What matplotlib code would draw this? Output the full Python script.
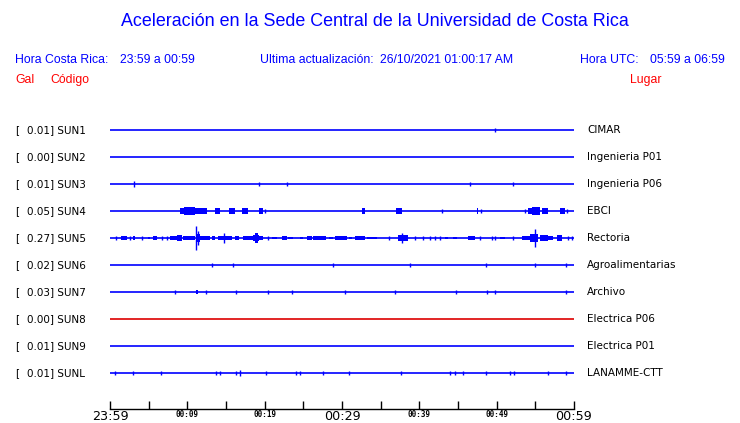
import matplotlib
matplotlib.use("Agg")
import matplotlib.pyplot as plt

W, H = 740, 423

# stations, from top to bottom
codes = ["SUN1", "SUN2", "SUN3", "SUN4", "SUN5", "SUN6", "SUN7", "SUN8", "SUN9", "SUNL"]
peaks = ["0.01", "0.00", "0.01", "0.05", "0.27", "0.02", "0.03", "0.00", "0.01", "0.01"]
places = ["CIMAR", "Ingenieria P01", "Ingenieria P06", "EBCI", "Rectoria",
          "Agroalimentarias", "Archivo", "Electrica P06", "Electrica P01", "LANAMME-CTT"]

# bursts: (start minute, end minute, half amplitude in half-row units)
# minutes counted from 23:59
sun1 = [(49.8, 49.8, 0.16)]
sun2 = []
sun3 = [(3.1, 3.1, 0.2), (19.3, 19.3, 0.16), (22.9, 22.9, 0.16), (46.6, 46.6, 0.16),
        (52.1, 52.1, 0.14)]
sun4 = [(9.05, 9.57, 0.22), (9.57, 10.35, 0.3), (10.35, 11.0, 0.33), (11.0, 11.64, 0.22),
        (11.64, 12.54, 0.2), (13.58, 14.22, 0.22), (15.4, 16.16, 0.25), (17.07, 17.85, 0.22),
        (19.27, 19.78, 0.2), (20.04, 20.04, 0.14), (32.6, 33.0, 0.22), (37.0, 37.76, 0.22),
        (42.9, 42.9, 0.14), (47.5, 47.6, 0.2), (47.98, 47.98, 0.14), (53.7, 53.7, 0.16),
        (54.05, 54.6, 0.25), (54.6, 55.6, 0.3), (55.9, 56.6, 0.25), (58.2, 58.8, 0.25),
        (59.1, 59.1, 0.16)]
sun5 = [(0.8, 0.8, 0.14), (1.4, 2.2, 0.13), (2.6, 2.6, 0.16), (3.0, 3.2, 0.12), (4.1, 4.1, 0.14),
        (4.9, 5.2, 0.1), (5.6, 6.1, 0.14), (6.7, 6.7, 0.12), (7.4, 7.4, 0.14), (7.8, 8.7, 0.12),
        (8.7, 9.3, 0.25), (9.4, 11.0, 0.15), (11.1, 11.1, 0.9), (11.4, 11.4, 0.5),
        (11.2, 11.6, 0.3), (11.6, 12.9, 0.14), (13.2, 13.6, 0.12), (14.0, 15.8, 0.18),
        (14.7, 14.7, 0.35), (16.2, 16.7, 0.14), (17.2, 18.5, 0.14), (18.8, 19.1, 0.4),
        (18.5, 19.3, 0.25), (19.3, 19.8, 0.15), (20.4, 20.4, 0.12), (21.0, 21.6, 0.1),
        (22.2, 22.9, 0.12), (23.0, 23.7, 0.1), (24.6, 25.0, 0.1), (25.5, 26.1, 0.12),
        (26.3, 27.9, 0.12), (28.3, 28.8, 0.1), (29.1, 30.6, 0.12), (30.9, 31.3, 0.1),
        (31.7, 33.0, 0.14), (33.2, 34.5, 0.1), (36.1, 36.1, 0.14), (37.2, 38.5, 0.2),
        (37.8, 37.8, 0.35), (39.4, 39.4, 0.12), (40.5, 40.5, 0.12), (41.4, 41.4, 0.12),
        (42.0, 42.0, 0.14), (42.7, 42.7, 0.12), (43.3, 43.7, 0.1), (44.4, 44.9, 0.1),
        (46.3, 47.2, 0.15), (47.8, 47.8, 0.12), (49.4, 49.4, 0.12), (49.8, 49.8, 0.12),
        (50.4, 51.1, 0.1), (52.1, 52.1, 0.14), (53.3, 54.3, 0.14), (54.3, 55.4, 0.3),
        (55.0, 55.0, 0.67), (55.6, 56.6, 0.2), (56.6, 57.3, 0.14), (57.8, 58.5, 0.2),
        (59.2, 59.2, 0.12), (59.7, 59.7, 0.12)]
sun6 = [(13.2, 13.2, 0.18), (15.9, 15.9, 0.14), (28.8, 28.8, 0.14), (38.8, 38.8, 0.18),
        (48.6, 48.6, 0.18), (55.0, 55.0, 0.14), (59.0, 59.0, 0.18)]
sun7 = [(8.4, 8.4, 0.14), (11.1, 11.4, 0.15), (12.4, 12.4, 0.16), (16.3, 16.3, 0.14),
        (20.4, 20.4, 0.14), (23.5, 23.5, 0.12), (30.4, 30.4, 0.14), (36.9, 36.9, 0.12),
        (44.7, 44.7, 0.12), (48.75, 48.75, 0.14), (49.8, 49.8, 0.12), (59.0, 59.0, 0.16)]
sun8 = []
sun9 = []
sunl = [(0.65, 0.65, 0.14), (3.0, 3.0, 0.14), (6.6, 6.6, 0.14), (13.7, 13.7, 0.14),
        (14.2, 14.2, 0.12), (16.3, 16.3, 0.14), (16.8, 16.8, 0.2), (20.2, 20.2, 0.12),
        (24.1, 24.1, 0.12), (24.6, 24.6, 0.12), (27.5, 27.5, 0.12), (30.9, 30.9, 0.12),
        (37.6, 37.6, 0.12), (44.0, 44.0, 0.14), (44.6, 44.6, 0.12), (45.6, 45.6, 0.12),
        (48.6, 48.6, 0.14), (51.7, 51.7, 0.12), (52.2, 52.2, 0.12), (56.6, 56.6, 0.14),
        (59.0, 59.0, 0.14)]
traces = [sun1, sun2, sun3, sun4, sun5, sun6, sun7, sun8, sun9, sunl]
trace_colors = ["#0000ff"] * 7 + ["#dd0000"] + ["#0000ff"] * 2

tick_minutes = list(range(0, 61, 5))
tick_text = {0: "23:59", 10: "00:09", 20: "00:19", 30: "00:29", 40: "00:39", 50: "00:49", 60: "00:59"}
big_ticks = [0, 30, 60]

BLUE = "#0000ff"
RED = "#ff0000"
SANS = "Liberation Sans"
HALF_ROW = 0.5


def fx(px):
    return px / W


def fy(py):
    return 1 - py / H


fig = plt.figure(figsize=(W / 100, H / 100), dpi=100)

# trace area: x 110..574 px, rows at 130 + 27*i, axis line at 409 px
ax = fig.add_axes([fx(110), fy(409), (574 - 110) / W, (409 - 115) / H])
ax.set_xlim(0, 60)
ax.set_ylim((409 - 130) / 27, (115 - 130) / 27)

for i, (tr, col) in enumerate(zip(traces, trace_colors)):
    ax.plot([0, 60], [i, i], color=col, lw=1.2, solid_capstyle="butt")
    for t0, t1, a in tr:
        a = a * HALF_ROW
        if t1 > t0:
            ax.fill_between([t0, t1], [i - a, i - a], [i + a, i + a], color=col, lw=0)
        else:
            ax.vlines(t0, i - a, i + a, color=col, lw=1.0)

for s in ["top", "right", "left"]:
    ax.spines[s].set_visible(False)
ax.spines["bottom"].set_linewidth(1.0)
ax.set_yticks([])
ax.set_xticks(tick_minutes)
ax.set_xticklabels([tick_text.get(m, "") for m in tick_minutes])
ax.tick_params(axis="x", direction="in", length=5.5, width=1.0, pad=1.0)
for m, lab in zip(tick_minutes, ax.get_xticklabels()):
    if m in big_ticks:
        lab.set_fontfamily("DejaVu Sans")
        lab.set_fontsize(9.2)
    else:
        lab.set_fontfamily("DejaVu Sans Mono")
        lab.set_fontsize(5.5)
        lab.set_fontweight("bold")
ax.patch.set_alpha(0)

# title and header lines
fig.text(fx(375), fy(22), "Aceleración en la Sede Central de la Universidad de Costa Rica",
         color=BLUE, fontsize=12.9, family=SANS, ha="center", va="center")
hdr = dict(color=BLUE, fontsize=8.8, family=SANS, va="center")
fig.text(fx(15), fy(60), "Hora Costa Rica:", **hdr)
fig.text(fx(120), fy(60), "23:59 a 00:59", **hdr)
fig.text(fx(260), fy(60), "Ultima actualización:", **hdr)
fig.text(fx(380), fy(60), "26/10/2021 01:00:17 AM", **hdr)
fig.text(fx(580), fy(60), "Hora UTC:", **hdr)
fig.text(fx(650), fy(60), "05:59 a 06:59", **hdr)
red = dict(color=RED, fontsize=8.8, family=SANS, va="center")
fig.text(fx(15), fy(80), "Gal", **red)
fig.text(fx(50), fy(80), "Código", **red)
fig.text(fx(630), fy(80), "Lugar", **red)

# row labels
for i in range(len(codes)):
    y = fy(130 + 27 * i)
    fig.text(fx(15), y, "[", fontsize=7.5, family="DejaVu Sans", va="center")
    fig.text(fx(27), y, peaks[i] + "] " + codes[i], fontsize=7.5, family="DejaVu Sans",
             va="center")
    fig.text(fx(587), y, places[i], fontsize=7.5, family="DejaVu Sans", va="center")

fig.savefig("out.png", dpi=100)
